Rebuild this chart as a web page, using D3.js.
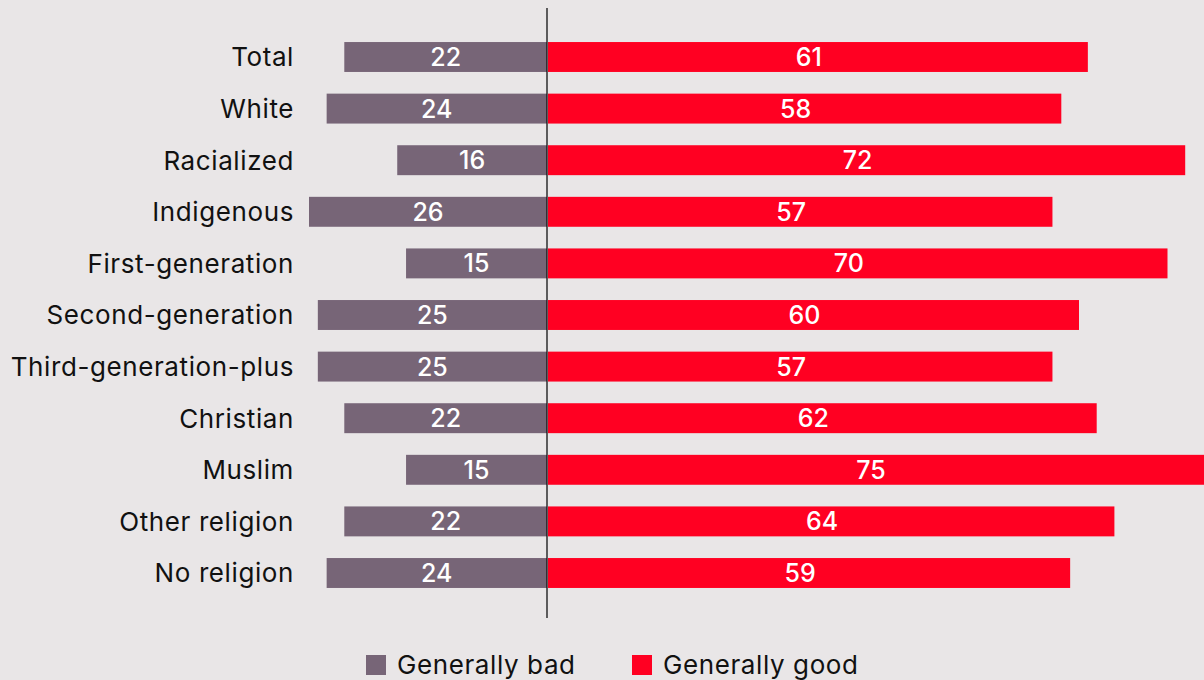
<!DOCTYPE html>
<html>
<head>
<meta charset="utf-8">
<script src="https://cdn.jsdelivr.net/npm/d3@7"></script>
<style>
html,body{margin:0;padding:0;background:#e9e6e7;}
svg{display:block;font-family:Inter,"Noto Sans",sans-serif;}
</style>
</head>
<body>
<svg id="chart" width="1204" height="680"></svg>
<script>
const categories = ["Total","White","Racialized","Indigenous","First-generation","Second-generation","Third-generation-plus","Christian","Muslim","Other religion","No religion"];
const generallyBad = [22,24,16,26,15,25,25,22,15,22,24];
const generallyGood = [61,58,72,57,70,60,57,62,75,64,59];
const seriesNames = ["Generally bad","Generally good"];
const colors = {bad:"#776577", good:"#ff0022"};

const svg = d3.select("#chart");
const W = 1204, H = 680;
svg.append("rect").attr("width",W).attr("height",H).attr("fill","#e9e6e7");

const axisX = 547;
const y = d3.scaleBand().domain(categories).range([31.2, 598.8]).paddingInner(0.42).paddingOuter(0.21);
const xGood = d3.scaleLinear().domain([0,75]).range([548, 548 + 75*8.85]);
const xBad = d3.scaleLinear().domain([0,26]).range([538.4, 309]);

const rows = categories.map((c,i)=>({cat:c, bad:generallyBad[i], good:generallyGood[i]}));

const g = svg.append("g");
g.selectAll("rect.bad").data(rows).join("rect").attr("class","bad")
  .attr("x", d=>xBad(d.bad)).attr("width", d=>axisX - xBad(d.bad))
  .attr("y", d=>y(d.cat)).attr("height", y.bandwidth()).attr("fill", colors.bad);
g.selectAll("rect.good").data(rows).join("rect").attr("class","good")
  .attr("x", xGood(0)).attr("width", d=>xGood(d.good)-xGood(0))
  .attr("y", d=>y(d.cat)).attr("height", y.bandwidth()).attr("fill", colors.good);

g.selectAll("text.vb").data(rows).join("text").attr("class","vb")
  .attr("x", d=>(xBad(d.bad)+axisX)/2).attr("y", d=>y(d.cat)+y.bandwidth()/2)
  .attr("dy","0.36em").attr("text-anchor","middle").attr("fill","#fff")
  .attr("font-size",25).attr("font-weight",500).text(d=>d.bad);
g.selectAll("text.vg").data(rows).join("text").attr("class","vg")
  .attr("x", d=>(xGood(0)+xGood(d.good))/2 - 9).attr("y", d=>y(d.cat)+y.bandwidth()/2)
  .attr("dy","0.36em").attr("text-anchor","middle").attr("fill","#fff")
  .attr("font-size",25).attr("font-weight",500).text(d=>d.good);

g.selectAll("text.cat").data(rows).join("text").attr("class","cat")
  .attr("x", 294).attr("y", d=>y(d.cat)+y.bandwidth()/2)
  .attr("dy","0.36em").attr("text-anchor","end").attr("fill","#111")
  .attr("font-size",26).attr("letter-spacing",0.6).text(d=>d.cat);

svg.append("line").attr("x1",axisX).attr("x2",axisX).attr("y1",8).attr("y2",618)
  .attr("stroke","#111").attr("stroke-width",1.3);

const legend = svg.append("g");
const legItems = [{name:seriesNames[0], color:colors.bad, x:366},{name:seriesNames[1], color:colors.good, x:632}];
legItems.forEach(it=>{
  legend.append("rect").attr("x",it.x).attr("y",655).attr("width",20).attr("height",20).attr("fill",it.color);
  legend.append("text").attr("x",it.x+31).attr("y",665).attr("dy","0.36em")
    .attr("font-size",26).attr("letter-spacing",0.6).attr("fill","#111").text(it.name);
});
</script>
</body>
</html>
